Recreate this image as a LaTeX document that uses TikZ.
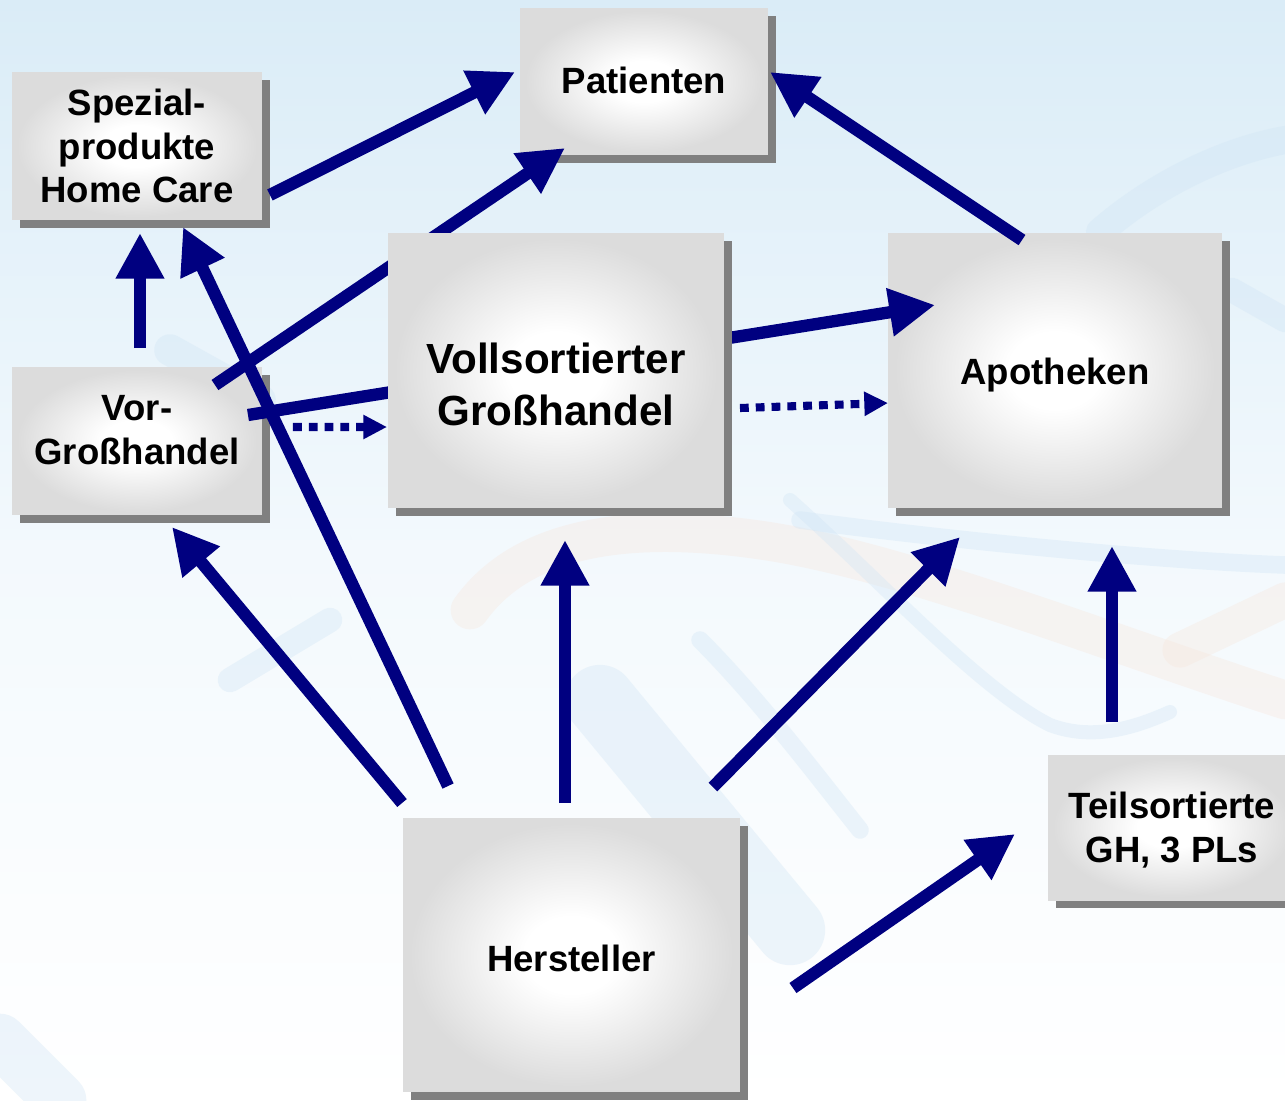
\documentclass[tikz,border=0pt]{standalone}
\usepackage{fontspec}
\setmainfont{Liberation Sans}
\usetikzlibrary{arrows.meta,shadows,calc}
\definecolor{navy}{HTML}{000080}
\definecolor{boxgray}{HTML}{DCDCDC}
\definecolor{bgtop}{HTML}{DAECF7}
\definecolor{bgmid}{HTML}{F3F9FD}
\definecolor{wmblue}{HTML}{CFE4F5}
\definecolor{wmpeach}{HTML}{F7E6DC}
\pgfdeclareradialshading{boxshade}{\pgfpoint{0bp}{0bp}}{color(0bp)=(white); color(7bp)=(white); color(24bp)=(boxgray); color(50bp)=(boxgray)}
\begin{document}
\begin{tikzpicture}[x=0.02cm,y=-0.02cm,
  box/.style={shading=boxshade, draw=none, inner sep=0pt, outer sep=0pt,
    general shadow={fill=black!50, shadow xshift=0.16cm, shadow yshift=-0.16cm}},
  lbl/.style={font=\bfseries\fontsize{20.8pt}{25pt}\selectfont, align=center, inner sep=0pt},
  biglbl/.style={font=\bfseries\fontsize{24pt}{29.6pt}\selectfont, align=center, inner sep=0pt},
  arr/.style={draw=navy, line width=7pt, -{Triangle[length=26pt,width=26pt]}},
  dotarr/.style={draw=navy, line width=4.6pt, dash pattern=on 5pt off 4pt, -{Triangle[length=13.5pt,width=13pt]}},
  wm/.style={line width=#1, line cap=round, opacity=0.35}
]
\useasboundingbox (0,0) rectangle (1285,1100);
\clip (0,0) rectangle (1285,1100);
% background
\shade[top color=bgtop, bottom color=white, middle color=bgmid] (0,0) rectangle (1285,1100);
% faint watermark
\draw[wm=22pt, wmpeach] (470,610) .. controls (520,540) and (620,520) .. (760,540) .. controls (900,560) and (1100,640) .. (1285,700);
\draw[wm=8pt, wmblue] (790,500) .. controls (880,580) and (980,690) .. (1050,725) .. controls (1090,740) and (1130,730) .. (1170,712);
\draw[wm=10pt, wmblue] (700,640) .. controls (760,700) and (820,780) .. (860,830);
\draw[wm=40pt, wmblue] (600,700) -- (790,930);
\draw[wm=16pt, wmblue] (1100,232) .. controls (1160,180) and (1230,150) .. (1285,140);
\draw[wm=14pt, wmblue] (1232,290) -- (1285,320);
\draw[wm=10pt, wmblue] (800,520) .. controls (950,540) and (1150,560) .. (1285,565);
\draw[wm=30pt, wmblue] (0,1040) -- (60,1100);
\draw[wm=18pt, wmblue] (170,350) -- (260,400);
\draw[wm=14pt, wmblue] (230,680) -- (330,620);
\draw[wm=20pt, wmpeach] (1180,650) -- (1285,600);

% boxes
\node[box, minimum width=5cm, minimum height=2.96cm] (spez) at (137,146) {};
\node[lbl] (spezt) at (spez.center) {Spezial-\\produkte\\Home Care};
\node[box, minimum width=4.96cm, minimum height=2.94cm] (pat) at (644,81.5) {};
\node[lbl] (patt) at ([yshift=0.5]pat.center) {Patienten};
\node[box, minimum width=6.68cm, minimum height=5.5cm] (apo) at (1055,370.5) {};
\node[lbl] (apot) at ([shift={(0,5)}]apo.center) {Apotheken};
\node[box, minimum width=5cm, minimum height=2.96cm] (vor) at (137,441) {};
\node[lbl] (vort) at ([shift={(0,-10.5)}]vor.center) {Vor-\\Großhandel};
\node[box, minimum width=6.74cm, minimum height=5.48cm] (hers) at (571.5,955) {};
\node[lbl] (herst) at ([shift={(0,3)}]hers.center) {Hersteller};
\node[box, minimum width=4.96cm, minimum height=2.9cm] (teil) at (1172,827.5) {};
\node[lbl] (teilt) at ([shift={(0,3)}]teil.center) {Teilsortierte\\GH, 3 PLs};

% arrows passing behind the central box
\draw[arr] ([shift={(-47,18)}]vor.north east) -- ([shift={(45,-7)}]pat.south west);
\draw[arr] ([shift={(-14,-26)}]vor.east) -- ([shift={(47,-65.5)}]apo.west);

\node[box, minimum width=6.72cm, minimum height=5.5cm] (voll) at (556,370.5) {};
\node[biglbl] (vollt) at ([shift={(0,13.5)}]voll.center) {Vollsortierter\\Großhandel};

% remaining arrows
\draw[arr] ([shift={(8,49)}]spez.east) -- ([shift={(-5,-9.5)}]pat.west);
\draw[arr] ([shift={(-33,7)}]apo.north) -- ([shift={(2,-9.5)}]pat.east);
\draw[dotarr] ([shift={(16,37.5)}]voll.east) -- ([shift={(0,32.5)}]apo.west);
\draw[dotarr] ([shift={(31,-14)}]vor.east) -- ([shift={(-1,56.5)}]voll.west);
\draw[arr] ([shift={(3,-19)}]vor.north) -- ([shift={(3,13)}]spez.south);
\draw[arr] ([shift={(45,-32)}]hers.north west) -- ([shift={(46,7)}]spez.south);
\draw[arr] ([shift={(-1,-15)}]hers.north west) -- ([shift={(35,12)}]vor.south);
\draw[arr] ([shift={(-6.5,-15)}]hers.north) -- ([shift={(9,32)}]voll.south);
\draw[arr] ([shift={(-27,-31)}]hers.north east) -- ([shift={(72,29)}]apo.south west);
\draw[arr] ([shift={(-60,-33)}]teil.north) -- ([shift={(57,38)}]apo.south);
\draw[arr] ([shift={(53,33)}]hers.east) -- ([shift={(-33,6.5)}]teil.west);
\end{tikzpicture}
\end{document}
